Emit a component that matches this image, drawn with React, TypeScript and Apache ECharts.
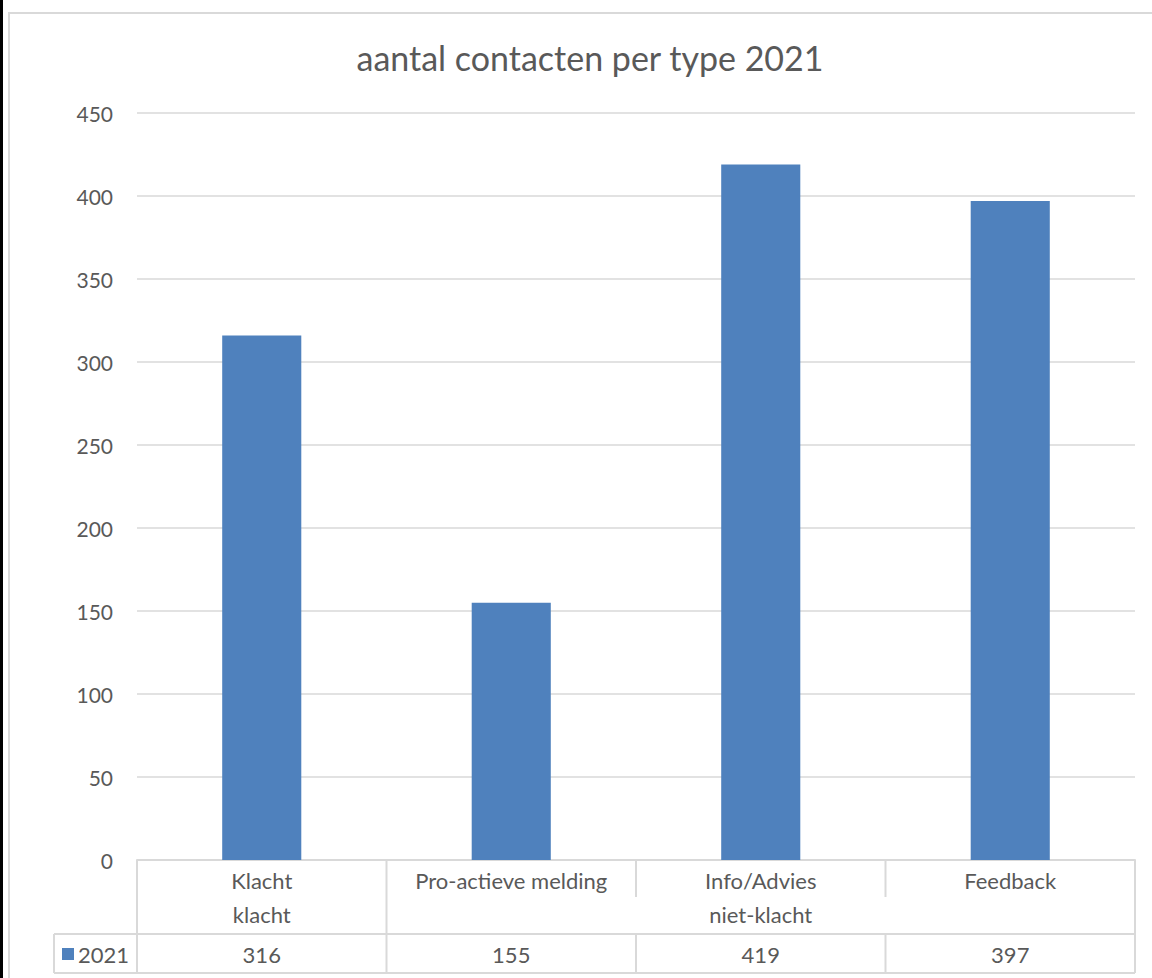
import React, { useEffect, useRef } from "react";
import * as echarts from "echarts";

const titleText = "aantal contacten per type 2021";
const categories = ["Klacht", "Pro-actieve melding", "Info/Advies", "Feedback"];
const groupNames = ["klacht", "niet-klacht"];
const groupSpans = [1, 3];
const seriesName = "2021";
const values = [316, 155, 419, 397];
const yMin = 0;
const yMax = 450;
const yStep = 50;

const FONT = "Lato, 'Open Sans', sans-serif";
const TXT = "#595959";
const LINE = "#d9d9d9";
const BAR = "#4f81bd";
const TS = 22;

export default function App() {
  const ref = useRef<HTMLDivElement>(null);
  useEffect(() => {
    const chart = echarts.init(ref.current!, null, { renderer: "svg" });
    chart.setOption({
      animation: false,
      backgroundColor: "#ffffff",
      title: {
        text: titleText,
        left: 585,
        top: 31,
        textAlign: "center",
        textStyle: { fontFamily: FONT, fontSize: 34, fontWeight: "normal", color: TXT, lineHeight: 42 },
      },
      grid: { left: 137, right: 17, top: 113, bottom: 118, containLabel: false, outerBoundsMode: "none" },
      xAxis: {
        type: "category",
        data: categories,
        axisLine: { show: true, lineStyle: { color: LINE, width: 2 } },
        axisTick: { show: false },
        axisLabel: { show: true, margin: 9, fontFamily: FONT, fontSize: TS, color: TXT, lineHeight: 22, interval: 0 },
      },
      yAxis: {
        type: "value",
        min: yMin,
        max: yMax,
        interval: yStep,
        axisLine: { show: false },
        axisTick: { show: false },
        axisLabel: { margin: 24, fontFamily: FONT, fontSize: 21, color: TXT },
        splitLine: { lineStyle: { color: LINE, width: 1.5 } },
      },
      series: [
        {
          type: "bar",
          name: seriesName,
          data: values,
          barWidth: "31.7%",
          itemStyle: { color: BAR },
        },
      ],
    });

    const cx = (i: number) => chart.convertToPixel({ xAxisIndex: 0 }, i) as number;
    const c0 = cx(0);
    const band = cx(1) - c0;
    const left = c0 - band / 2;
    const bound = (i: number) => left + band * i;
    const n = categories.length;
    const right = bound(n);
    const y0 = chart.convertToPixel({ yAxisIndex: 0 }, yMin) as number;
    const yRow1Bot = y0 + 37;
    const yRow2Mid = y0 + 54;
    const yRow2Bot = y0 + 74;
    const yRow3Mid = y0 + 94;
    const yBot = y0 + 113;
    const legLeft = 54;

    const lineStyle = { stroke: LINE, lineWidth: 2 };
    const els: any[] = [];
    els.push({ type: "rect", shape: { x: 0, y: 0, width: 3, height: 978 }, style: { fill: "#000" }, z: 100 });
    els.push({ type: "rect", shape: { x: 9, y: 13, width: 1300, height: 1100 }, style: { fill: "none", stroke: LINE, lineWidth: 2 }, silent: true });
    els.push({ type: "line", shape: { x1: legLeft, y1: yRow2Bot, x2: right, y2: yRow2Bot }, style: lineStyle });
    els.push({ type: "line", shape: { x1: legLeft, y1: yBot, x2: right, y2: yBot }, style: lineStyle });
    els.push({ type: "line", shape: { x1: legLeft, y1: yRow2Bot, x2: legLeft, y2: yBot }, style: lineStyle });
    const groupBounds: number[] = [0];
    let acc = 0;
    groupSpans.forEach((s) => { acc += s; groupBounds.push(acc); });
    for (let i = 0; i <= n; i++) {
      const x = bound(i);
      if (groupBounds.includes(i)) {
        els.push({ type: "line", shape: { x1: x, y1: y0, x2: x, y2: yBot }, style: lineStyle });
      } else {
        els.push({ type: "line", shape: { x1: x, y1: y0, x2: x, y2: yRow1Bot }, style: lineStyle });
        els.push({ type: "line", shape: { x1: x, y1: yRow2Bot, x2: x, y2: yBot }, style: lineStyle });
      }
    }
    groupNames.forEach((g, gi) => {
      const xm = (bound(groupBounds[gi]) + bound(groupBounds[gi + 1])) / 2;
      els.push({ type: "text", x: xm, y: yRow2Mid, style: { text: g, fill: TXT, font: `${TS}px ${FONT}`, align: "center", verticalAlign: "middle" } });
    });
    values.forEach((v, i) => {
      els.push({ type: "text", x: cx(i), y: yRow3Mid, style: { text: String(v), fill: TXT, font: `${TS}px ${FONT}`, align: "center", verticalAlign: "middle" } });
    });
    els.push({ type: "rect", shape: { x: 62, y: yRow3Mid - 6, width: 12, height: 12 }, style: { fill: BAR } });
    els.push({ type: "text", x: 78, y: yRow3Mid, style: { text: seriesName, fill: TXT, font: `${TS}px ${FONT}`, align: "left", verticalAlign: "middle" } });

    chart.setOption({ graphic: { elements: els } });
    return () => chart.dispose();
  }, []);
  return <div ref={ref} style={{ position: "absolute", left: 0, top: 0, width: 1152, height: 978 }} />;
}
